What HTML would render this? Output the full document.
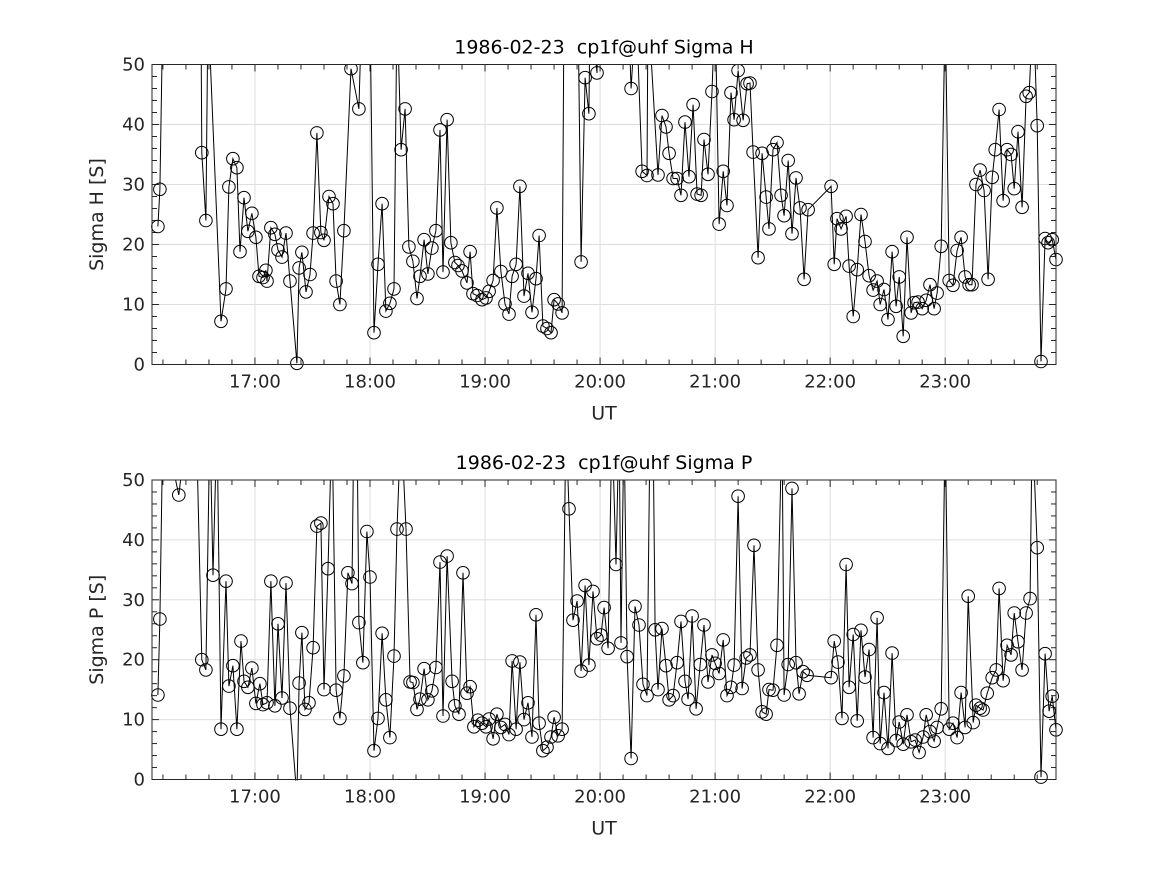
<!DOCTYPE html>
<html><head><meta charset="utf-8"><style>
body{margin:0;background:#fff;}
svg{display:block;font-family:"DejaVu Sans","Liberation Sans",sans-serif;}
</style></head><body>
<svg id="chart" width="1167" height="875" viewBox="0 0 1167 875" xmlns="http://www.w3.org/2000/svg">
<rect width="1167" height="875" fill="#fff"/>
</svg>
<script>
// times in minutes after 16:00 UT
const timesH = [9.4,10.4,12,31.8,32.3,34.4,35.5,42.3,44.9,46.4,48.5,50.6,52.2,54.3,56.3,58.4,60.5,62.1,64.2,65.7,66.3,68.3,70.4,72,74.1,76.2,78.3,81.9,83,84.5,86.6,88.7,90.3,92.3,94.4,96,98.6,100.7,102.3,104.3,106.4,110.1,114.2,115.8,120,122.1,124.2,126.3,128.3,130.4,132.5,134.1,136.2,138.3,140.3,142.4,144.5,146.1,148.2,150.2,152.3,154.4,156.5,158.1,160.2,162.2,164.3,165.9,168,170.6,172.2,173.7,175.8,178.4,180.5,182.1,184.2,186.2,188.3,190.4,192.5,194.1,196.2,198.2,200.3,202.4,204.5,206.6,208.2,210.2,212.3,214.4,216,218.1,220.2,221.2,228.5,230.1,232.2,234.2,234.8,238.4,238.9,254.6,256.2,258.8,261.9,264.5,265,270.2,272.3,274.4,276,278.1,280.2,282.2,284.3,286.4,288.5,290.6,292.7,294.2,296.3,298.4,300,302.1,304.2,306.2,308.3,309.9,312,314.6,316.7,318.2,319.8,322.4,324.5,326.6,328.1,330.2,332.3,334.4,336,338.1,340.1,342.2,344.3,346.4,348.5,360.5,362.1,363.6,365.7,368.3,369.9,372,374.1,376.1,378.2,380.3,382.4,384.5,386.1,388.1,390.2,392.3,394.4,396,398.1,400.1,402.2,403.8,405.9,408,410.1,412.1,414.2,415.8,417.9,420,422.1,424.1,426.2,428.3,430.4,432.5,434,436.1,438.2,440.3,442.4,444.5,446.1,448.1,450.2,452.3,454.4,456,458,460.1,462.2,463.8,465.9,468,470,472.1,473.7,475.8,477.8];
const sigmaH = [23,29.2,60,60,35.3,24,60,7.2,12.6,29.6,34.3,32.8,18.8,27.8,22.2,25.2,21.2,14.7,14.5,15.7,13.9,22.8,21.7,19.1,17.9,21.9,13.9,0.2,16.1,18.7,12.1,15,21.9,38.6,22,20.7,28,26.8,13.9,10,22.3,49.3,42.6,60,60,5.3,16.7,26.8,8.9,10.2,12.6,60,35.8,42.6,19.6,17.2,11,14.7,20.8,15.1,19.4,22.3,39.1,15.4,40.8,20.3,17,16.5,15.6,13.6,18.8,11.8,11.5,10.8,11.1,12.2,14,26.1,15.5,10.1,8.4,14.7,16.7,29.7,11.4,15.2,8.7,14.3,21.5,6.4,6,5.3,10.8,10.1,8.6,60,60,17.1,47.8,41.8,60,48.6,60,60,46,60,32.2,31.5,60,31.6,41.5,39.6,35.2,31,31,28.2,40.4,31.3,43.3,28.4,28.2,37.5,31.7,45.5,60,23.4,32.2,26.5,45.3,40.8,49,40.7,46.8,46.9,35.4,17.8,35.2,27.9,22.6,35.8,37,28.2,24.8,34,21.8,31.1,26.1,14.2,25.8,29.7,16.7,24.3,22.6,24.7,16.4,8,15.8,25,20.5,14.8,12.4,13.9,10,12.5,7.5,18.8,9.7,14.6,4.7,21.2,8.6,10.3,10.4,9.3,10.7,13.3,9.3,11.9,19.7,60,14,13.2,19,21.2,14.6,13.3,13.3,30,32.4,29,14.2,31.2,35.8,42.5,27.3,35.8,35,29.3,38.8,26.2,44.7,45.3,60,39.8,0.5,21,20.3,20.8,17.5];
const timesP = [9.4,10.4,12,20.3,28.7,32.3,34.4,36.5,38.1,40.2,42.3,44.9,46.4,48.5,50.6,52.7,54.3,56.3,58.4,60.5,62.6,64.2,66.3,68.3,70.4,72,74.1,76.2,78.3,81.9,83,84.5,86.1,88.2,90.3,92.3,94.4,96,98.1,100.2,102.3,104.3,106.4,108.5,110.6,111.6,113.2,114.2,116.3,118.4,120,122.1,124.2,126.3,128.3,130.4,132.5,134.1,136.2,138.8,140.9,142.4,144.5,146.1,148.2,150.2,152.3,154.4,156.5,158.1,160.2,162.8,164.3,166.4,168.5,170.6,172.2,174.2,176.3,178.4,180.5,182.1,184.2,186.2,188.3,190.4,192.5,194.1,196.2,198.2,200.3,202.4,204.5,206.6,208.2,210.2,212.3,214.4,216,218.1,220.2,222.2,223.8,225.9,228,230.1,232.2,234.2,236.3,238.4,240.5,242.1,244.2,246.2,248.3,249.9,250.9,252.5,254.1,256.2,258.2,260.3,262.4,264.5,266.1,267.6,268.7,270.2,272.3,274.4,276,278.1,280.2,282.2,284.3,285.9,288,290.1,292.2,294.2,296.3,298.4,300,302.1,304.2,306.2,308.3,309.9,312,314.1,316.2,318.2,320.3,322.4,324.5,326.6,328.1,330.2,332.3,334.9,336,338.1,340.1,342.2,343.8,345.9,348,360.5,362.1,364.1,366.2,368.3,369.9,372,374.1,376.1,378.2,380.3,382.4,384.5,386.1,388.1,390.2,392.3,394.4,396,398.1,400.1,402.2,404.3,406.4,408.5,410.1,412.1,414.2,415.8,417.9,420,422.1,424.1,426.2,428.3,430.4,432,434.6,436.1,438.2,439.8,441.9,444.5,446.6,448.1,450.2,452.3,454.4,456,458,460.1,462.2,464.3,465.4,468,470,472.1,474.2,475.8,477.8];
const sigmaP = [14.1,26.8,60,47.5,70,20,18.3,60,34.1,60,8.4,33.1,15.6,19,8.4,23.1,16.4,15.4,18.6,12.7,16,12.5,12.8,33.1,12.3,26,13.6,32.8,11.9,-3,16.1,24.5,11.7,12.8,22,42.3,42.8,15,35.2,60,14.9,10.2,17.3,34.5,32.7,60,60,26.2,19.5,41.4,33.8,4.8,10.2,24.4,13.3,7,20.6,41.8,60,41.8,16.3,16.2,11.7,13.4,18.5,13.3,14.8,18.7,36.3,10.6,37.3,16.4,12.3,10.9,34.5,14.4,15.5,8.8,9.9,9.4,8.8,10.1,6.8,10.9,8.7,9.2,7.5,19.8,8.4,19.6,10,12.8,7.1,27.5,9.4,4.8,5.4,7.1,10.4,7.3,8.4,60,45.2,26.6,29.8,18.1,32.4,19.1,31.4,23.5,24.1,28.7,21.9,60,35.9,60,22.8,60,20.5,3.5,28.9,25.8,15.9,14,60,60,25,15,25.2,19,13.3,14,19.5,26.4,16.4,13.4,27.3,11.8,19.2,25.8,16.3,20.8,19.4,17.7,23.3,14,15.4,19.1,47.3,15.2,20.3,20.8,39.1,18.3,11.3,10.9,15,14.9,22.4,60,14.1,19.2,48.6,19.5,14.3,18,17.4,17,23.1,19.6,10.2,35.9,15.4,24.2,9.8,24.9,17.1,21.7,7,27,6,14.5,5.2,21.1,6.5,9.6,5.9,10.8,6.3,6.6,4.5,7.1,10.8,8,6.4,8.7,11.8,60,8.4,9.4,7,14.5,8.7,30.6,9.5,12.4,11.9,11.6,14.4,17,18.3,31.9,16.5,22.4,20.8,27.8,23,18.3,27.8,30.2,60,38.7,0.4,21,11.4,13.9,8.3];
const xTickLabels = ["17:00","18:00","19:00","20:00","21:00","22:00","23:00"];
const xTickMinutes = [60,120,180,240,300,360,420];
const yTickValues = [0,10,20,30,40,50];

const NS = "http://www.w3.org/2000/svg";
const svg = document.getElementById("chart");
function mk(tag, attrs, parent){const e=document.createElementNS(NS,tag);for(const k in attrs)e.setAttribute(k,attrs[k]);(parent||svg).appendChild(e);return e;}

const X0=152, X1=1056, T0=6.3, T1=477.8;
const xs = t => X0 + (t-T0)*(X1-X0)/(T1-T0);

function panel(id, top, bottom, title, ylab, times, vals){
  const g = mk("g",{});
  
  
  const ys = v => bottom - v*(bottom-top)/50;
  xTickMinutes.forEach(m=>{const l=mk("line",{x1:xs(m),x2:xs(m),y1:top,y2:bottom,stroke:"#dedede","stroke-width":1},g);
    });
  yTickValues.forEach(v=>{if(v>0&&v<50){const l=mk("line",{x1:X0,x2:X1,y1:ys(v),y2:ys(v),stroke:"#dedede","stroke-width":1},g);
    }});
  for(let m=12;m<T1;m+=12){const x=xs(m); if(x<X0)continue;
    const len = (m%60===0)?7:5;
    mk("line",{x1:x,x2:x,y1:bottom,y2:bottom-len,stroke:"#262626","stroke-width":1},g);
    mk("line",{x1:x,x2:x,y1:top,y2:top+len,stroke:"#262626","stroke-width":1},g);}
  for(let v=0;v<=50;v+=2){const y=ys(v);const len=(v%10===0)?7:5;
    mk("line",{x1:X0,x2:X0+len,y1:y,y2:y,stroke:"#262626","stroke-width":1},g);
    mk("line",{x1:X1,x2:X1-len,y1:y,y2:y,stroke:"#262626","stroke-width":1},g);}
  const cp = mk("clipPath",{id:"clip-"+id},g);
  mk("rect",{x:0,y:top,width:1167,height:bottom-top+1},cp);
  const dg = mk("g",{"clip-path":"url(#clip-"+id+")"},g);
  let d="";
  times.forEach((t,i)=>{d+=(i?"L":"M")+xs(t).toFixed(1)+","+ys(vals[i]).toFixed(1);});
  const line = mk("path",{d:d,fill:"none",stroke:"#000","stroke-width":1},dg);
  
  
  const cg = mk("g",{},g);
  const cp2 = mk("clipPath",{id:"clipc-"+id},g);
  mk("rect",{x:0,y:top,width:1167,height:bottom-top+8},cp2);
  cg.setAttribute("clip-path","url(#clipc-"+id+")");
  times.forEach((t,i)=>{
    const c = mk("circle",{cx:xs(t).toFixed(1),cy:ys(vals[i]).toFixed(1),r:6.3,fill:"none",stroke:"#000","stroke-width":1},cg);
    
    
  });
  const box = mk("rect",{x:X0,y:top,width:X1-X0,height:bottom-top,fill:"none",stroke:"#262626","stroke-width":1},g);
  
  
  xTickMinutes.forEach((m,i)=>{const t=mk("text",{x:xs(m),y:bottom+23,"text-anchor":"middle","font-size":18,fill:"#262626"},g);t.textContent=xTickLabels[i];
    });
  yTickValues.forEach(v=>{const t=mk("text",{x:X0-7,y:ys(v)+6,"text-anchor":"end","font-size":18,fill:"#262626"},g);t.textContent=v;
    });
  const xt=mk("text",{x:(X0+X1)/2,y:bottom+55,"text-anchor":"middle","font-size":19,fill:"#262626"},g);xt.textContent="UT";
  
  const yt=mk("text",{x:0,y:0,"text-anchor":"middle","font-size":19,fill:"#262626",transform:"translate(103,"+((top+bottom)/2)+") rotate(-90)"},g);yt.textContent=ylab;
  
  const tt=mk("text",{x:(X0+X1)/2,y:top-11,"text-anchor":"middle","font-size":19,fill:"#000"},g);tt.textContent=title;
  
}
panel("sigma-h",64.5,364.5,"1986-02-23\u00a0\u00a0cp1f@uhf Sigma H","Sigma H [S]",timesH,sigmaH);
panel("sigma-p",480,779.5,"1986-02-23\u00a0\u00a0cp1f@uhf Sigma P","Sigma P [S]",timesP,sigmaP);
</script>
</body></html>
